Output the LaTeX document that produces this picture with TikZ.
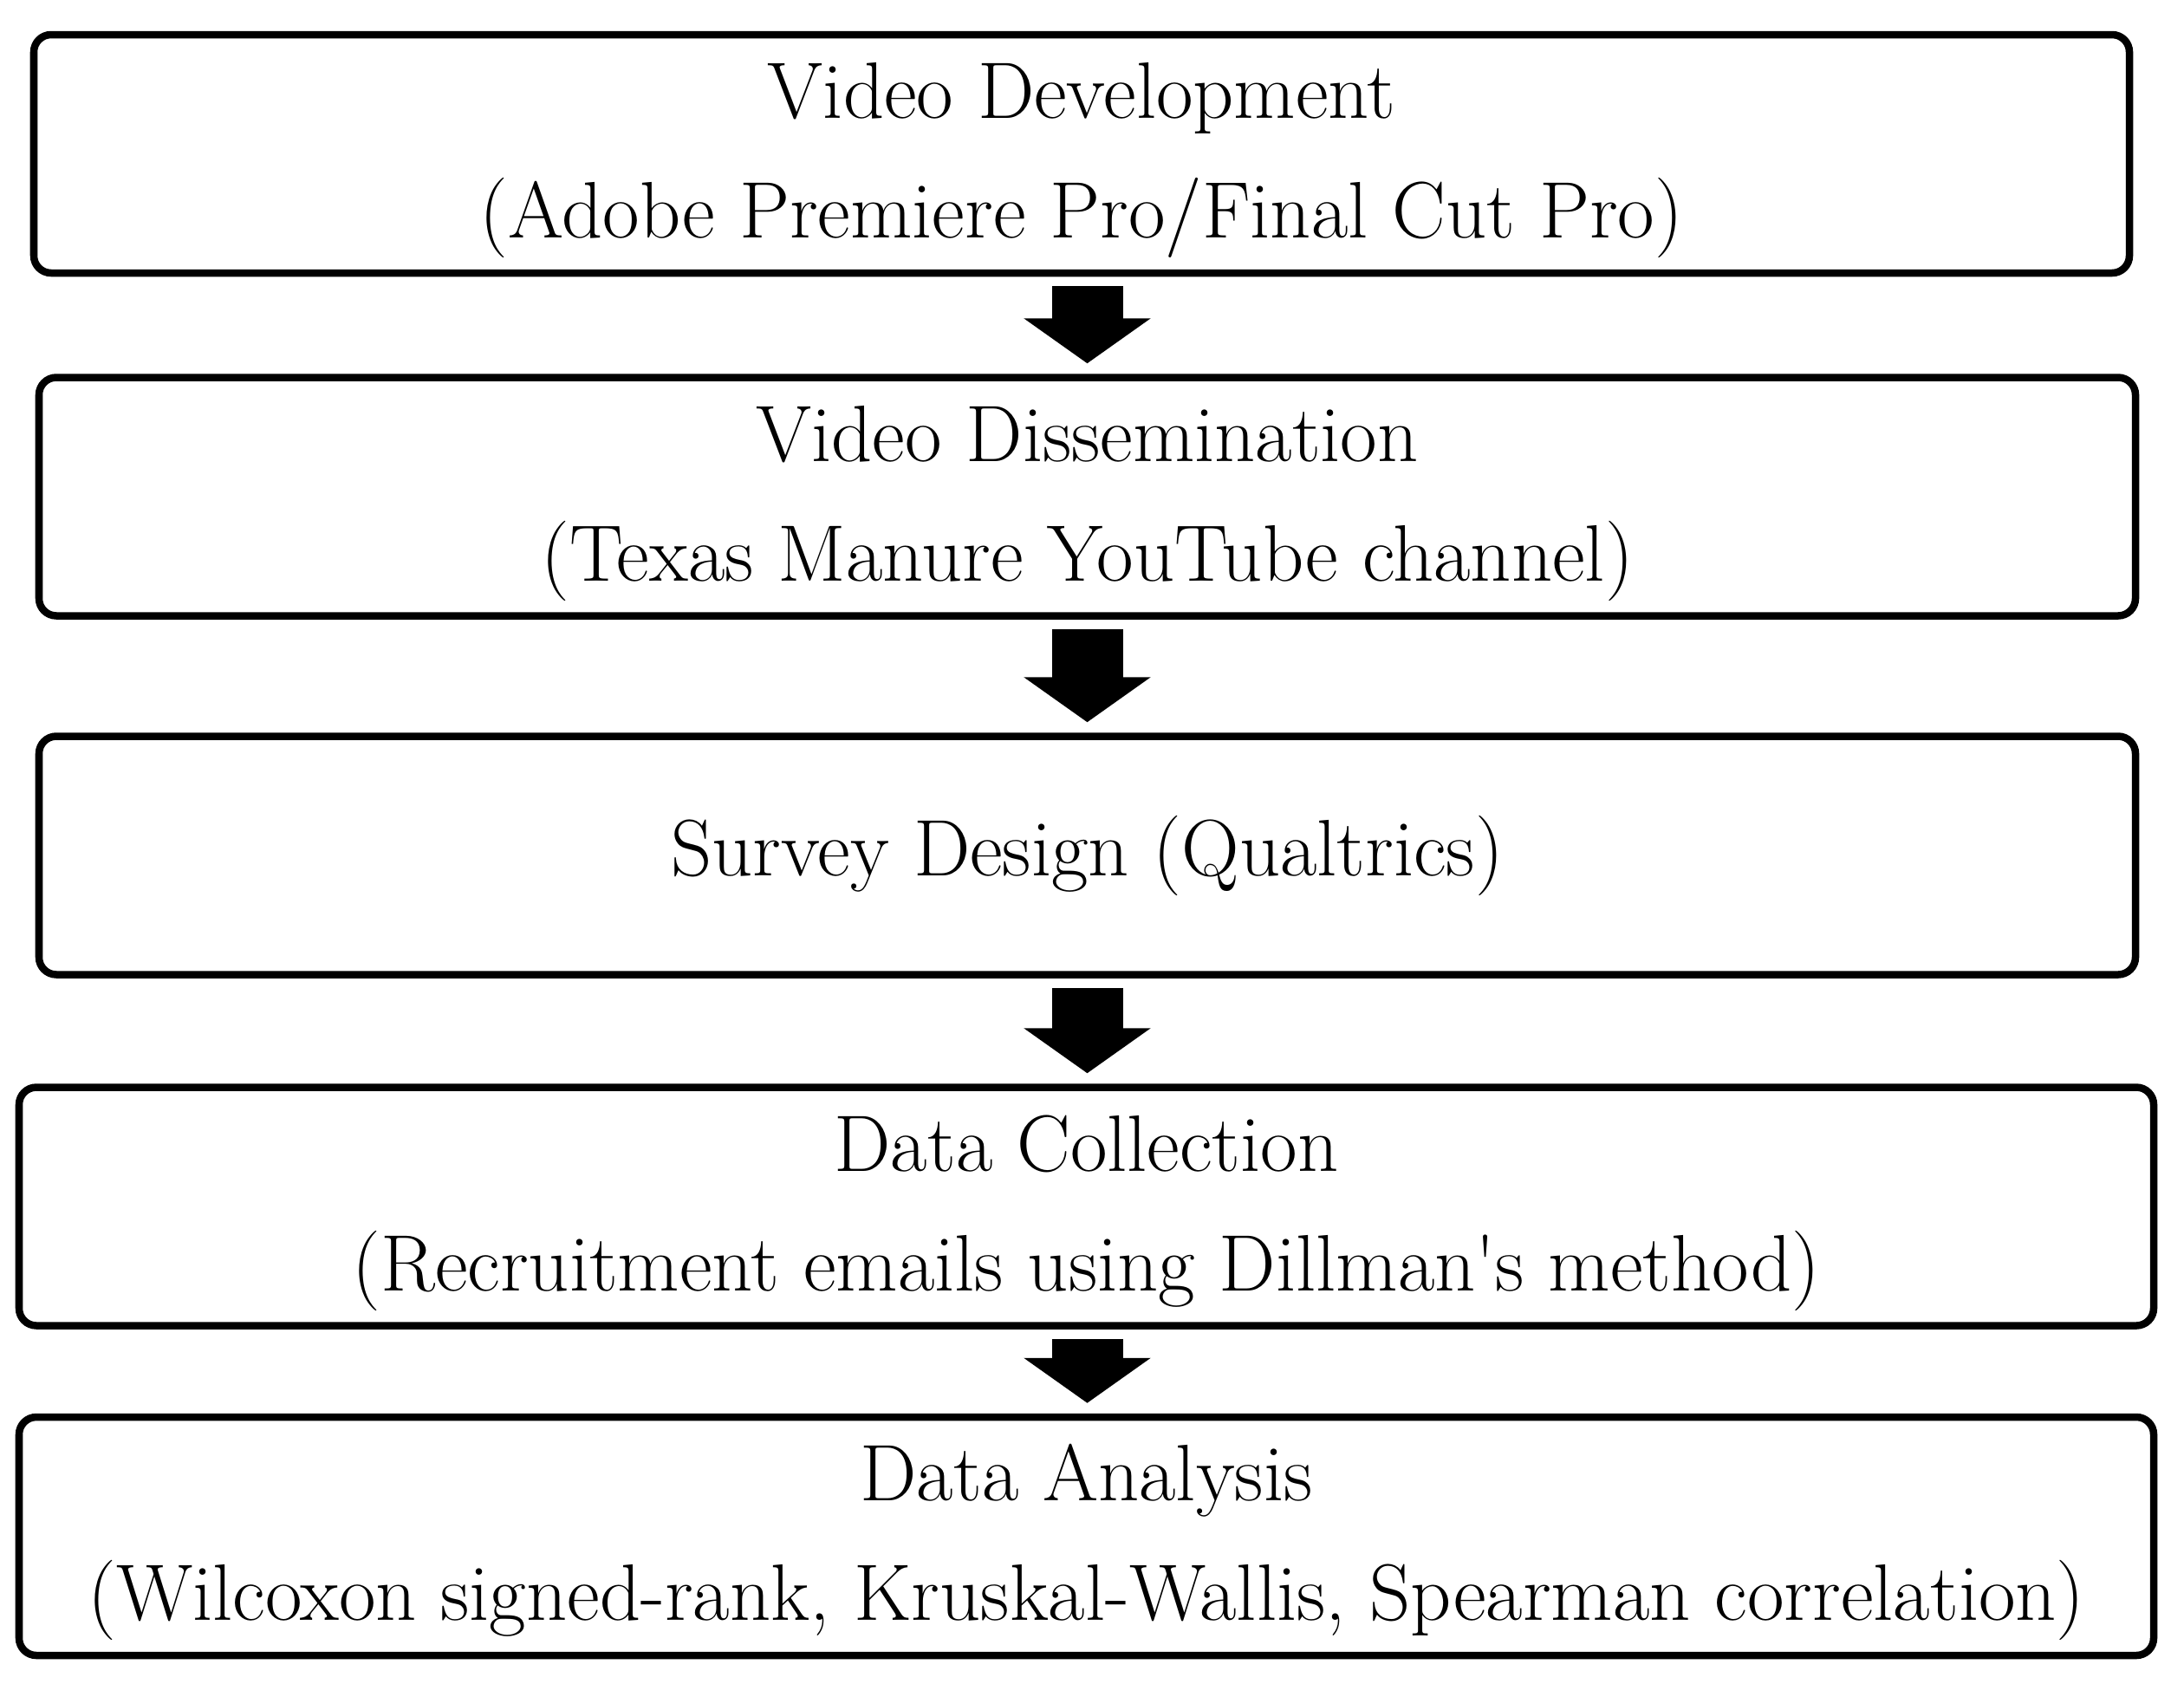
\documentclass[tikz,border=0pt]{standalone}
\usepackage{tikz}
\usetikzlibrary{arrows.meta}
\tikzset{stagebox/.style={draw,line width=0.085cm,rounded corners=0.2cm,align=center,inner sep=0pt,minimum height=2.75cm},
  twoline/.style={text height=62pt},
  flowarrow/.style={line width=0.82cm,-{Triangle[width=1.44cm,length=0.52cm]},shorten <=0.11cm,shorten >=0.12cm}}
\begin{document}
\begin{tikzpicture}[font=\fontsize{26.3}{39.3}\selectfont,line join=miter]
\useasboundingbox (0,0) rectangle (25.2,-19.42);
% --- the five stages, top to bottom
\node[stagebox,twoline,minimum width=24.18cm] (dev) at (12.48,-1.775) {Video Development\\(Adobe Premiere Pro/Final Cut Pro)};
\node[stagebox,twoline,minimum width=24.19cm] (diss) at (12.545,-5.73) {Video Dissemination\\(Texas Manure YouTube channel)};
\node[stagebox,minimum width=24.19cm] (survey) at (12.545,-9.87) {Survey Design (Qualtrics)};
\node[stagebox,twoline,minimum width=24.63cm] (coll) at (12.535,-13.92) {Data Collection\\(Recruitment emails using Dillman\textquotesingle s method)};
\node[stagebox,twoline,minimum width=24.63cm] (anal) at (12.535,-17.725) {Data Analysis\\(Wilcoxon signed-rank, Kruskal-Wallis, Spearman correlation)};
% --- block arrows between stages
\draw[flowarrow] (dev.south -| diss.north) -- (diss.north);
\draw[flowarrow] (diss.south) -- (survey.north);
\draw[flowarrow] (survey.south) -- (survey.south |- coll.north);
\draw[flowarrow] (coll.south -| survey.south) -- (survey.south |- anal.north);
\end{tikzpicture}
\end{document}
